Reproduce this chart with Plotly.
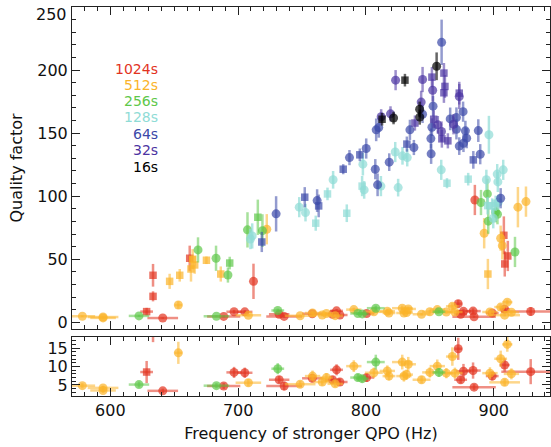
import plotly.graph_objects as go

# Quality factor vs. frequency of the stronger QPO, grouped by segment length.
labels = ["1024s", "512s", "256s", "128s", "64s", "32s", "16s"]
colors = ["#e2331f", "#fbb42a", "#5ec84a", "#8fdcd6", "#3a48a8", "#4c34a2", "#000000"]
err_colors = ["rgba(226,51,31,0.55)", "rgba(251,180,42,0.55)", "rgba(94,200,74,0.55)",
              "rgba(143,220,214,0.7)", "rgba(58,72,168,0.55)", "rgba(76,52,162,0.55)",
              "rgba(0,0,0,0.6)"]

# 1024 s segments
f_1024 = [641.0, 688.7, 696.8, 705.2, 712.0, 732.1, 736.0, 758.0, 773.8, 777.0, 779.6, 800.5,
          872.2, 874.1, 876.3, 883.8, 884.6, 898.8, 908.5, 928.9, 885.2,
          628.4, 633.4, 633.4, 662.1, 907.9, 911.0, 908.6]
df_1024 = [12, 13, 6, 6, 0, 8, 14, 8, 6, 5, 6, 6, 3, 5, 6, 6, 17, 5, 4, 23, 0,
           5, 0, 0, 0, 0, 0, 0]
q_1024 = [3.4, 4.7, 8.4, 8.3, 32.5, 6.4, 4.7, 6.8, 6.4, 9.1, 5.8, 7.0,
          14.8, 6.4, 8.7, 8.9, 4.4, 7.4, 10.4, 8.6, 97.0,
          8.5, 20.6, 37.3, 50.8, 69.0, 52.6, 46.3]
dq_1024 = [0.6, 0.8, 1.5, 1.4, 14, 1.0, 1.2, 1.1, 1.0, 1.5, 0.9, 1.2,
           3.0, 1.0, 2.0, 2.2, 0.8, 1.2, 1.8, 3.4, 12,
           3.0, 4.0, 9, 10, 15, 12, 10]
sym_1024 = ["circle"] * 21 + ["square"] * 7

# 512 s segments
f_512 = [578.1, 594.3, 594.3, 653.2, 708.0, 748.5, 758.2, 765.8, 769.1, 775.9, 790.5, 806.2,
         816.7, 818.0, 828.4, 829.7, 831.8, 833.1, 843.5, 850.0, 855.8, 862.9, 867.6, 869.6,
         897.0, 905.4, 910.6, 908.5, 913.8, 722.4, 892.5, 905.4, 906.7, 918.9, 925.2,
         646.4, 654.3, 664.4, 663.1, 666.0, 675.2, 686.4, 895.4]
df_512 = [10, 12, 10, 3, 10, 12, 6, 7, 5, 6, 6, 7, 6, 5, 8, 6, 5, 6, 7, 6, 6, 5, 5, 6,
          6, 5, 4, 12, 6, 0, 0, 0, 0, 0, 0, 0, 0, 0, 0, 0, 0, 0, 0]
q_512 = [4.8, 4.2, 3.5, 13.7, 5.6, 5.2, 7.4, 5.8, 7.0, 5.3, 10.1, 8.3,
         8.8, 7.4, 11.2, 7.4, 7.8, 10.6, 6.4, 8.4, 10.1, 8.2, 12.7, 8.2,
         8.2, 12.1, 16.0, 5.7, 8.0, 73.8, 70.6, 66.7, 60.8, 91.3, 95.7,
         32.5, 37.3, 50.0, 42.3, 45.5, 49.2, 38.3, 38.3]
dq_512 = [0.7, 0.6, 0.6, 3.0, 1.0, 0.9, 1.5, 1.0, 1.2, 0.9, 1.6, 1.4,
          1.5, 1.2, 2.0, 1.5, 1.4, 2.0, 1.0, 1.4, 1.8, 1.4, 2.5, 1.5,
          1.6, 2.2, 2.0, 1.0, 1.5, 12, 12, 10, 11, 16, 12,
          6, 5, 8, 10, 7, 3, 6, 12]
sym_512 = ["circle"] * 35 + ["square"] * 8

# 256 s segments
f_256 = [622.4, 683.0, 731.0, 793.7, 797.1, 807.7, 857.1, 668.6, 682.7, 692.0, 707.3, 719.0,
         890.0, 895.0, 895.7, 901.5, 902.9, 916.6, 715.4, 693.4]
df_256 = [8, 10, 5, 6, 5, 7, 5, 0, 0, 0, 0, 0, 0, 0, 0, 0, 0, 0, 0, 0]
q_256 = [5.1, 4.8, 9.4, 7.0, 6.7, 11.2, 8.4, 57.4, 50.8, 37.5, 73.3, 72.7,
         95.0, 101.8, 80.2, 87.3, 85.7, 55.8, 83.3, 47.0]
dq_256 = [0.8, 0.7, 1.5, 1.0, 1.0, 2.0, 1.2, 10, 10, 6, 14, 13, 10, 12, 10, 8, 8, 12, 14, 5]
sym_256 = ["circle"] * 18 + ["square"] * 2

# 128 s segments
f_128 = [711.0, 709.6, 747.8, 752.7, 774.3, 797.6, 798.6, 811.7, 822.9, 825.2, 828.6, 832.3,
         858.9, 894.2, 896.2, 899.6, 902.7, 903.2, 903.5, 907.4,
         760.7, 769.9, 785.0, 797.0, 863.4, 880.0, 895.2, 898.8, 901.5]
q_128 = [68.5, 66.0, 91.3, 87.0, 113.0, 125.4, 105.0, 108.0, 135.0, 106.8, 132.0, 130.6,
         120.9, 113.0, 148.7, 82.5, 117.5, 111.3, 95.2, 120.9,
         78.6, 101.8, 86.5, 108.0, 110.3, 113.5, 92.5, 92.3, 94.4]
dq_128 = [10, 8, 8, 7, 7, 9, 7, 8, 8, 7, 7, 7, 8, 8, 15, 8, 8, 8, 6, 8,
          6, 5, 7, 8, 4, 5, 7, 6, 6]
sym_128 = ["circle"] * 20 + ["square"] * 9

# 64 s segments
f_64 = [729.7, 761.8, 787.1, 800.2, 807.3, 809.1, 808.0, 810.0, 818.2, 834.4, 837.5, 844.3,
        850.8, 851.6, 852.5, 851.0, 859.2, 865.9, 870.8, 870.8, 876.0, 877.8, 878.8, 876.3,
        873.0, 887.9, 889.4, 905.4, 718.5, 752.1, 763.0, 782.2, 795.2, 832.0, 884.0]
q_64 = [86.0, 96.5, 130.6, 137.8, 121.4, 109.0, 152.6, 154.4, 127.0, 152.6, 138.6, 165.0,
        145.7, 154.7, 171.4, 133.6, 222.0, 161.3, 162.4, 153.0, 167.0, 151.8, 146.0, 142.0,
        139.7, 152.0, 133.3, 98.4, 63.7, 99.2, 92.3, 121.4, 132.8, 141.3, 128.8]
dq_64 = [14, 9, 6, 8, 8, 9, 9, 8, 7, 8, 6, 7, 8, 7, 8, 8, 18, 9, 8, 8, 8, 8, 8, 7,
         7, 9, 8, 8, 8, 8, 9, 4, 5, 6, 7]
sym_64 = ["circle"] * 28 + ["square"] * 7

# 32 s segments
f_32 = [823.2, 844.3, 852.2, 873.0, 843.2, 811.9, 819.2, 856.2, 868.5, 859.1,
        861.0, 851.6, 861.8, 861.0, 873.0, 838.3, 853.0, 859.4, 864.1]
q_32 = [192.0, 192.5, 184.0, 179.0, 174.6, 163.0, 165.3, 156.6, 157.0, 151.3,
        197.6, 194.4, 187.0, 182.0, 181.7, 158.0, 161.0, 145.5, 143.9]
dq_32 = [8, 10, 9, 10, 9, 6, 6, 7, 8, 8, 8, 8, 9, 8, 9, 6, 7, 7, 6]
sym_32 = ["circle"] * 10 + ["square"] * 9

# 16 s segments
f_16 = [855.3, 842.0, 842.1, 821.6, 830.5, 812.6]
q_16 = [203.0, 169.0, 162.7, 162.0, 192.0, 161.0]
dq_16 = [11, 6, 6, 5, 5, 5]
sym_16 = ["circle"] * 4 + ["square"] * 2

series = [
    (f_1024, df_1024, q_1024, dq_1024, sym_1024),
    (f_512, df_512, q_512, dq_512, sym_512),
    (f_256, df_256, q_256, dq_256, sym_256),
    (f_128, [0] * len(f_128), q_128, dq_128, sym_128),
    (f_64, [0] * len(f_64), q_64, dq_64, sym_64),
    (f_32, [0] * len(f_32), q_32, dq_32, sym_32),
    (f_16, [0] * len(f_16), q_16, dq_16, sym_16),
]

fig = go.Figure()
for (f, df, q, dq, sym), col, ecol, name in zip(series, colors, err_colors, labels):
    sizes = [9 if s == "circle" else 7.5 for s in sym]
    for xa, ya in (("x", "y"), ("x2", "y2")):
        fig.add_trace(go.Scatter(
            x=f, y=q, mode="markers", name=name, showlegend=False,
            xaxis=xa, yaxis=ya,
            marker=dict(color=col, symbol=sym, size=sizes, line=dict(width=0)),
            error_x=dict(type="data", array=df, color=ecol, thickness=2.5, width=0),
            error_y=dict(type="data", array=dq, color=ecol, thickness=2.5, width=0),
        ))

font = dict(family="DejaVu Sans", size=16, color="#111111")

# Segment-length key, written in the series colours
key_y = [201, 188.5, 175.5, 162.5, 149.5, 136.5, 123.5]
for lab, col, ky in zip(labels, colors, key_y):
    fig.add_annotation(x=638.5, y=ky, xref="x", yref="y", text=lab, showarrow=False,
                       xanchor="right", yanchor="middle",
                       font=dict(family="DejaVu Sans", size=14, color=col))

# Top tick label sits just inside the frame
fig.add_annotation(x=0, xref="paper", xanchor="right", xshift=-3, y=250, yref="y",
                   yanchor="middle", yshift=-7, text="250", showarrow=False, font=font)

axis_common = dict(showgrid=False, zeroline=False, showline=True, mirror="allticks",
                   ticks="inside", tickcolor="#222222", linecolor="#222222", linewidth=1,
                   tickfont=font)

fig.update_layout(
    width=551, height=447,
    margin=dict(l=72, r=1, t=7, b=51),
    paper_bgcolor="white", plot_bgcolor="white",
    font=font,
    xaxis=dict(domain=[0, 1], anchor="y", range=[570, 944], dtick=100, tick0=600,
               ticklen=8, showticklabels=False,
               minor=dict(ticks="inside", dtick=10, ticklen=4, tickcolor="#222222"),
               **axis_common),
    yaxis=dict(domain=[0.1722, 1], anchor="x", range=[-5.3, 250], dtick=50, tick0=0,
               ticklen=8,
               minor=dict(ticks="inside", dtick=10, ticklen=4, tickcolor="#222222"),
               title=dict(text="Quality factor", font=font, standoff=10),
               **axis_common),
    xaxis2=dict(domain=[0, 1], anchor="y2", matches="x", range=[570, 944], dtick=100,
                tick0=600, ticklen=8,
                minor=dict(ticks="inside", dtick=10, ticklen=4, tickcolor="#222222"),
                title=dict(text="Frequency of stronger QPO (Hz)", font=font, standoff=8),
                **axis_common),
    yaxis2=dict(domain=[0, 0.1517], anchor="x2", range=[2, 18], dtick=5, tick0=0,
                ticklen=8,
                minor=dict(ticks="inside", dtick=1, ticklen=4, tickcolor="#222222"),
                **axis_common),
)

fig.write_html("out.html")
